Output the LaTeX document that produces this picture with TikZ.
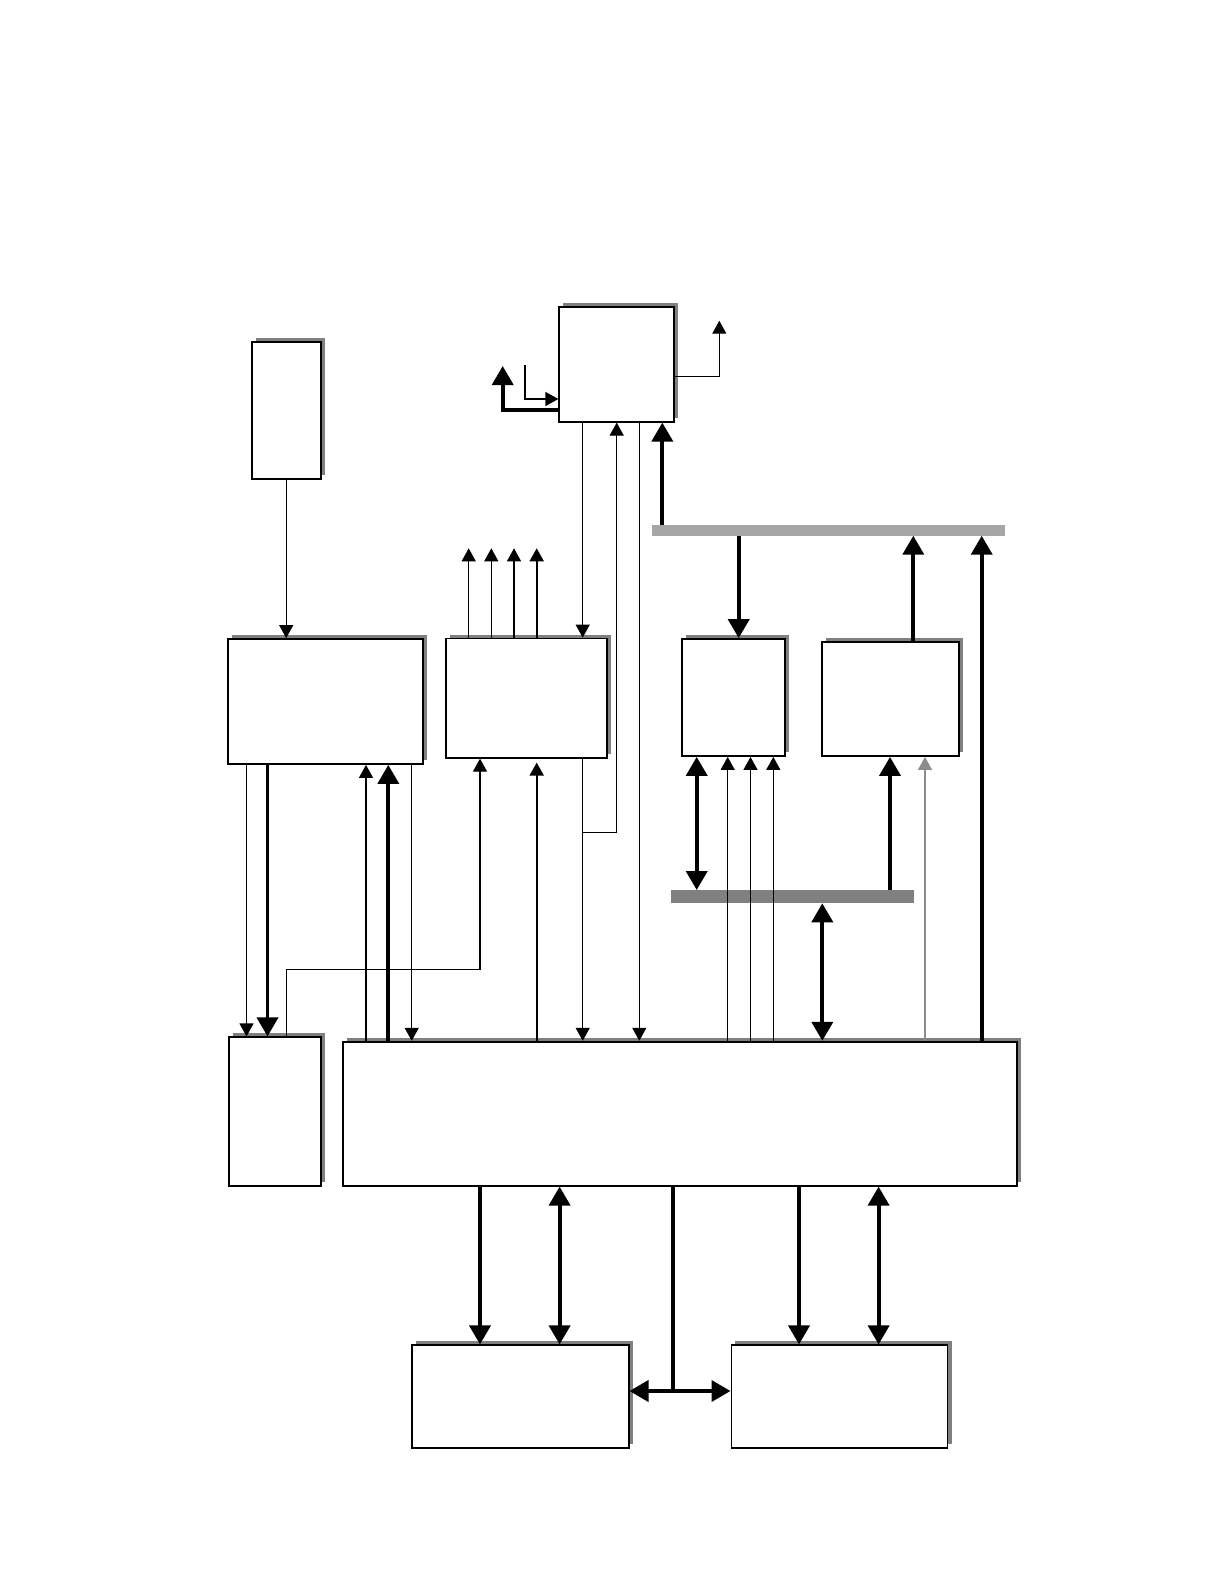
\documentclass[tikz,border=0pt]{standalone}
\usetikzlibrary{arrows.meta,shadows}
\definecolor{shd}{HTML}{808080}
\definecolor{barA}{HTML}{A6A6A6}
\definecolor{barB}{HTML}{808080}
\definecolor{gline}{HTML}{8C8C8C}
\tikzset{
  tn/.tip={Triangle[length=6.5pt,width=7pt]},
  tk/.tip={Triangle[length=9.5pt,width=10.5pt]},
  box/.style={draw,line width=0.9pt,fill=white,inner sep=0pt,
    drop shadow={shadow xshift=2pt,shadow yshift=2pt,fill=shd,opacity=1}},
  bar/.style={fill=#1,draw=none,inner sep=0pt,outer sep=0pt},
  thn/.style={line width=0.6pt},
  thk/.style={line width=1.9pt},
  med/.style={line width=1pt}
}
\begin{document}
\begin{tikzpicture}[x=0.5pt,y=-0.5pt]
\useasboundingbox (0,0) rectangle (1224,1584);
% boxes
\node[box,minimum width=57.5pt,minimum height=57.2pt] (cpu) at (616.8,364.5) {};
\node[box,minimum width=34.5pt,minimum height=68.5pt] (clk) at (286.2,410.8) {};
\node[box,minimum width=97.5pt,minimum height=62.5pt] (A) at (325.8,701.5) {};
\node[box,minimum width=80.35pt,minimum height=59.6pt] (B) at (526.35,698.1) {};
\node[box,minimum width=51.65pt,minimum height=58.5pt] (C) at (733.65,697.5) {};
\node[box,minimum width=68.65pt,minimum height=57pt] (D) at (890.35,699) {};
\node[box,minimum width=45.7pt,minimum height=74.2pt] (E) at (275,1111.5) {};
\node[box,minimum width=337pt,minimum height=72pt] (M) at (679.7,1113.7) {};
\node[box,minimum width=108.4pt,minimum height=51.35pt] (F) at (520.2,1396.65) {};
\node[box,minimum width=108.05pt,minimum height=51.35pt] (G) at (839.45,1396.65) {};
% buses
\node[bar=barA,minimum width=176.35pt,minimum height=5.35pt] (bar1) at (828.65,530.35) {};
\node[bar=barB,minimum width=121.5pt,minimum height=6.65pt] (bar2) at (792.5,896.65) {};
% free ends
\coordinate (o1) at (502.7,366);
\coordinate (i1) at (525,365);
\coordinate (o2) at (719.3,320.7);
\coordinate (j1) at (582.7,832.3);
\coordinate (k1) at (480,969.3);
\coordinate (j2) at (673.3,1391);
\coordinate (u1) at (468.7,548.3);
\coordinate (u2) at (491.3,548.3);
\coordinate (u3) at (514,548.3);
\coordinate (u4) at (536.7,548.3);
% top box connectors
\draw[thk,-tk] (cpu.west |- 0,410) -| (o1);
\draw[thn,-tn] (i1) |- (cpu.west |- 0,399);
\draw[thn,-tn] (cpu.east |- 0,376.7) -| (o2);
\draw[thn,-tn] (clk.south) -- (A.north -| clk.south);
\draw[thn,-tn] (cpu.south -| 582.7,0) -- (B.north -| 582.7,0);
\draw[thn,-tn] (B.south -| 582.7,0) -- (M.north -| 582.7,0);
\draw[thn,-tn] (j1) -| (cpu.south -| 616.7,0);
\draw[thn,-tn] (cpu.south -| 639.3,0) -- (M.north -| 639.3,0);
\draw[thk,-tk] (bar1.north -| 662.3,0) -- (cpu.south -| 662.3,0);
\draw[thk,-tk] (bar1.south -| 738.7,0) -- (C.north -| 738.7,0);
\draw[thk,-tk] (D.north -| 913.3,0) -- (bar1.south -| 913.3,0);
\draw[thk,-tk] (M.north -| 981.7,0) -- (bar1.south -| 981.7,0);
% B outputs
\draw[thn,-tn] (B.north -| u1) -- (u1);
\draw[thn,-tn] (B.north -| u2) -- (u2);
\draw[thn,-tn] (B.north -| u3) -- (u3);
\draw[med,-tn] (B.north -| u4) -- (u4);
% A, E
\draw[thn,-tn] (A.south -| 246.5,0) -- (E.north -| 246.5,0);
\draw[thk,-tk] (A.south -| 267.5,0) -- (E.north -| 267.5,0);
\draw[thn,-tn] (E.north -| 286.7,0) |- (k1) -- (B.south -| k1);
\draw[thn,-tn] (M.north -| 366,0) -- (A.south -| 366,0);
\draw[thk,-tk] (M.north -| 388.3,0) -- (A.south -| 388.3,0);
\draw[thn,-tn] (A.south -| 411.7,0) -- (M.north -| 411.7,0);
\draw[med,-tn,shorten >=2pt] (M.north -| 536.7,0) -- (B.south -| 536.7,0);
% C, D, bar2
\draw[thk,tk-tk] (C.south -| 696.7,0) -- (bar2.north -| 696.7,0);
\draw[thn,-tn] (M.north -| 727.7,0) -- (C.south -| 727.7,0);
\draw[thn,-tn] (M.north -| 750.5,0) -- (C.south -| 750.5,0);
\draw[thn,-tn] (M.north -| 773.3,0) -- (C.south -| 773.3,0);
\draw[thk,-tk] (bar2.north -| 890,0) -- (D.south -| 890,0);
\draw[thn,gline,-tn] (M.north -| 925,0) -- (D.south -| 925,0);
\draw[thk,tk-tk] (bar2.south -| 822.3,0) -- (M.north -| 822.3,0);
% bottom
\draw[thk,-tk] (M.south -| 480,0) -- (F.north -| 480,0);
\draw[thk,tk-tk] (M.south -| 559.6,0) -- (F.north -| 559.6,0);
\draw[thk,-tk] (M.south -| 799,0) -- (G.north -| 799,0);
\draw[thk,tk-tk] (M.south -| 878.6,0) -- (G.north -| 878.6,0);
\draw[thk] (M.south -| j2) -- (j2);
\draw[thk,tk-tk] (F.east |- j2) -- (G.west |- j2);
\end{tikzpicture}
\end{document}
